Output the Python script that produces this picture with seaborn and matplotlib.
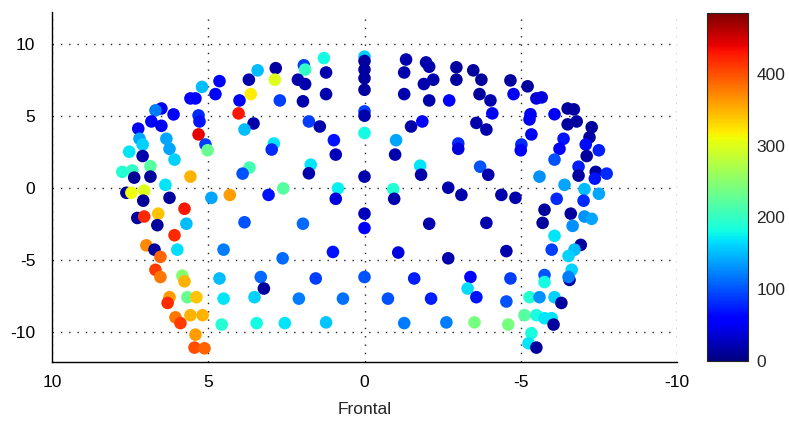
import numpy as np
import pandas as pd
import matplotlib
matplotlib.use("Agg")
import matplotlib.pyplot as plt
import seaborn as sns

# ---- data (x: lateral position, y: frontal position, value: colour) ----
x_pos = [5.2, 5.57, 5.41, 6.5, 6.69, 6.11, 5.31, 6.82, 6.5, 5.28, 5.31, 7.24, 7.2, 6.34, 7.1, 6.24, 5.09, 5.02,
         7.53, 7.1, 6.08, 7.75, 7.43, 6.85, 7.37, 6.85, 5.57, 6.37,
         7.62, 7.46, 7.05, 7.08, 6.24, 5.76, 4.9, 7.27, 7.05, 6.6, 6.63, 5.7, 6.08, 5.99, 6.98, 6.72, 6.53, 6.69,
         6.53, 5.83, 5.76, 6.24, 6.3, 5.67, 5.38, 6.05, 5.89, 5.57, 5.18, 5.41, 5.44, 5.12,
         4.64, 4.77, 3.7, 3.42, 2.84, 2.87, 3.64, 4.0, 2.71, 4.03, 3.55, 3.84, 1.94, 1.9, 1.3, 1.23, 2.13, 1.9,
         1.97, 1.23, 1.78, 1.43, 0.98, 0.92, 2.9, 2.97, 3.68, 3.9, 1.72, 1.78, 0.0, 0.0, 0.0, 0.0, 0.0, 0.0,
         0.0, 0.0, 0.0,
         4.31, 3.07, 2.6, 0.85, 0.92, 3.84, 1.97, 4.51, 2.62, 1.01, 4.64, 3.32, 3.22, 1.56, 4.51, 3.52, 2.1,
         0.69, 4.57, 3.45, 2.55, 1.23, 0.0, 0.0, 0.0,
         -1.33, -1.27, -1.27, -1.97, -2.07, -1.9, -2.2, -2.07, -2.71, -2.94, -2.94, -3.48, -3.74, -3.68, -4.03,
         -4.09, -4.67, -4.77, -5.22, -1.49, -1.85, -3.58, -3.9, -1.01, -0.98, -3.0, -3.0, -5.02, -5.0, -1.78,
         -1.81, -3.7, -3.96,
         -0.92, -0.95, -2.68, -3.1, -4.38, -4.83, -2.07, -3.9, -1.08, -2.68, -4.54, -1.59, -3.39, -4.67, -3.3,
         -3.58, -0.75, -2.13, -4.54, -1.27, -2.62, -3.52, -4.6,
         -5.5, -5.67, -6.08, -6.5, -6.7, -5.31, -5.28, -6.5, -6.79, -7.27, -5.34, -7.2, -6.37, -6.24, -7.08,
         -7.11, -7.5, -6.08, -6.85, -6.85, -7.4, -7.75, -7.37, -5.6, -6.4, -7.04,
         -7.5, -6.15, -7.01, -5.76, -6.6, -7.04, -7.27, -5.7, -6.66, -6.08, -6.92, -6.72, -6.53, -5.99, -6.63,
         -6.56, -6.53, -5.76, -5.76, -5.28, -5.6, -6.08, -6.3, -5.12, -5.5, -5.76, -5.99, -6.05, -5.34, -5.25,
         -5.5]
y_pos = [7.0, 6.2, 6.2, 5.5, 5.37, 5.09, 5.02, 4.6, 4.3, 4.6, 3.7, 4.1, 3.4, 3.4, 3.0, 2.7, 3.0, 2.6,
         2.5, 2.2, 1.95, 1.1, 1.2, 1.5, 0.7, 0.77, 0.77, 0.2,
         -0.35, -0.35, -0.2, -0.9, -0.7, -1.46, -0.7, -2.1, -2.0, -1.8, -2.6, -2.5, -3.3, -4.3, -4.0, -4.3, -4.8,
         -5.7, -6.2, -6.1, -6.5, -7.6, -8.0, -7.6, -7.6, -9.0, -9.4, -8.85, -8.85, -10.2, -11.1, -11.15,
         7.4, 6.5, 7.5, 8.15, 8.3, 7.5, 6.5, 6.06, 6.06, 5.16, 4.46, 4.04, 8.5, 8.2, 9.0, 8.0, 7.5, 7.2,
         6.0, 6.5, 4.6, 4.25, 3.3, 2.3, 3.07, 2.65, 1.4, 0.98, 1.6, 1.0, 9.1, 8.8, 8.2, 7.6, 6.8, 5.3,
         5.0, 3.8, 0.77,
         -0.5, -0.5, -0.05, -0.05, -0.77, -2.4, -2.5, -4.3, -4.9, -4.46, -6.3, -6.2, -7.0, -6.3, -7.7, -7.6,
         -7.7, -7.7, -9.5, -9.4, -9.4, -9.35, -6.2, -1.8, -2.8,
         8.9, 8.0, 6.5, 8.7, 8.4, 7.2, 7.5, 6.06, 6.06, 8.36, 7.5, 8.15, 7.5, 6.5, 6.06,
         5.16, 7.45, 6.5, 7.04, 4.25, 4.6, 4.5, 4.04, 3.3, 2.3, 3.07, 2.7, 3.0, 2.6, 1.53,
         0.9, 1.46, 0.9,
         -0.1, -0.77, 0.0, -0.5, -0.5, -0.7, -2.5, -2.44, -4.5, -4.9, -4.4, -6.3, -6.2, -6.3, -7.0,
         -7.6, -7.7, -7.7, -7.9, -9.4, -9.35, -9.35, -9.5,
         6.2, 6.27, 5.1, 5.5, 5.44, 5.1, 4.74, 4.4, 4.6, 4.2, 3.7, 3.5, 3.4, 2.7, 3.0,
         2.2, 2.6, 1.95, 1.46, 0.84, 1.1, 0.98, 0.63, 0.77, 0.2, -0.1,
         -0.42, -0.77, -0.9, -1.53, -1.8, -2.0, -2.16, -2.44, -2.65, -3.34, -3.97, -4.3, -4.74, -4.3, -5.7,
         -6.4, -6.2, -6.06, -6.55, -7.6, -7.6, -7.6, -8.0, -8.85, -8.85, -9.06, -9.06, -9.5, -10.1, -10.8,
         -11.1]
values = [150, 60, 60, 50, 120, 60, 80, 55, 50, 70, 440, 50, 140, 140, 160, 140, 90, 230,
          170, 20, 160, 190, 200, 220, 10, 15, 350, 170,
          10, 310, 300, 10, 15, 430, 140, 15, 420, 340, 15, 150, 420, 165, 370, 15, 390, 410,
          380, 250, 350, 360, 420, 230, 340, 380, 410, 350, 350, 360, 400, 390,
          60, 60, 20, 150, 15, 300, 320, 50, 90, 430, 20, 150, 90, 200, 180, 20, 20, 20,
          20, 20, 90, 20, 70, 25, 170, 80, 210, 100, 170, 20, 160, 15, 15, 15, 15, 90,
          20, 180, 20,
          360, 70, 220, 175, 40, 100, 110, 120, 110, 70, 150, 110, 15, 90, 170, 160,
          120, 115, 190, 180, 170, 155, 100, 25, 50,
          20, 20, 20, 20, 20, 20, 20, 20, 60, 15, 15, 15, 15, 15, 20,
          50, 15, 50, 15, 20, 60, 20, 20, 140, 20, 80, 40, 80, 60, 170,
          20, 100, 20,
          190, 20, 20, 20, 20, 20, 20, 20, 40, 20, 20, 75, 60, 90, 165,
          70, 100, 75, 100, 120, 120, 240, 240,
          40, 40, 50, 15, 15, 50, 50, 15, 15, 15, 60, 15, 70, 50, 65,
          15, 75, 100, 75, 15, 15, 80, 70, 130, 140, 150,
          140, 80, 80, 15, 15, 130, 140, 15, 130, 170, 15, 150, 160, 90, 160,
          15, 120, 100, 180, 190, 130, 160, 15, 220, 185, 170, 170, 15, 185, 170,
          15]

x_ticks = [10, 5, 0, -5, -10]
y_ticks = [-10, -5, 0, 5, 10]
cbar_ticks = [0, 100, 200, 300, 400]
x_label = "Frontal"
v_min, v_max = 0, 485

df = pd.DataFrame({"x": x_pos, "y": y_pos, "v": values})

sns.set_style("white")
plt.rcParams["font.family"] = ["Liberation Sans Narrow", "Liberation Sans", "DejaVu Sans"]

jet = matplotlib.colormaps["jet"]
norm = matplotlib.colors.Normalize(v_min, v_max)

W, H = 789, 423
fig = plt.figure(figsize=(W / 100, H / 100), dpi=100)
ax = fig.add_axes([52 / W, (H - 362) / H, (677 - 52) / W, (362 - 12) / H])

sns.scatterplot(data=df, x="x", y="y", hue="v", palette=jet, hue_norm=norm,
                s=82, linewidth=0, legend=False, ax=ax, zorder=3)

ax.set_xlim(10, -10)
ax.set_ylim(-12.1, 12.2)
ax.set_xticks(x_ticks)
ax.set_yticks(y_ticks)
ax.set_xticklabels([str(t) for t in x_ticks])
ax.set_yticklabels([str(t) for t in y_ticks])
ax.grid(True, color="#222222", linestyle=(0, (1, 5)), linewidth=1.0)
ax.set_axisbelow(True)
for s in ["top", "right"]:
    ax.spines[s].set_visible(False)
for s in ["left", "bottom"]:
    ax.spines[s].set_color("black")
    ax.spines[s].set_linewidth(1.0)
ax.tick_params(direction="in", length=4, width=1, colors="black", labelsize=12.5)
ax.tick_params(axis="x", pad=9)
ax.tick_params(axis="y", pad=12)
ax.set_xlabel(x_label, fontsize=12.5, labelpad=9)
ax.set_ylabel("")

cax = fig.add_axes([707 / W, (H - 361) / H, 41 / W, 348 / H])
sm = matplotlib.cm.ScalarMappable(cmap=jet, norm=norm)
cb = fig.colorbar(sm, cax=cax, ticks=cbar_ticks)
cb.outline.set_linewidth(0.8)
cax.tick_params(direction="in", length=3, labelsize=12.5, pad=6)

fig.savefig("out.png", dpi=100)
